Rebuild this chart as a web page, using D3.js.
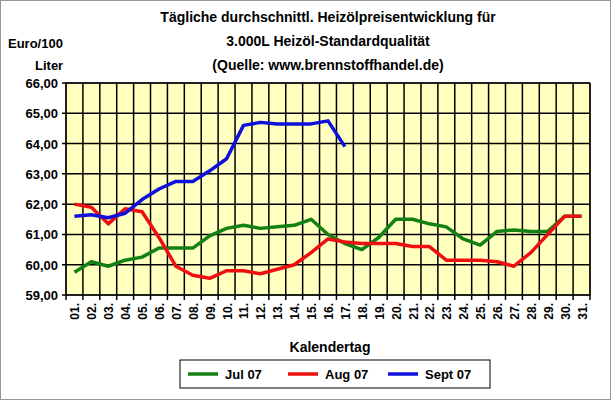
<!DOCTYPE html><html><head><meta charset="utf-8"><script src="https://cdn.jsdelivr.net/npm/d3@7"></script>
<style>body{margin:0;background:#fff}text{font-family:Arial,"Liberation Sans",sans-serif;font-weight:bold}</style></head><body><svg width="611" height="400"></svg><script>
const days=d3.range(1,32).map(d=>String(d).padStart(2,"0")+".");
const yTicks=[59,60,61,62,63,64,65,66];
const jul=[59.75,60.1,59.95,60.15,60.25,60.55,60.55,60.55,60.95,61.2,61.3,61.2,61.25,61.3,61.5,61.0,60.7,60.5,60.9,61.5,61.5,61.35,61.25,60.85,60.65,61.1,61.15,61.1,61.1,61.6,61.6];
const aug=[62.0,61.9,61.35,61.85,61.75,60.9,59.95,59.65,59.55,59.8,59.8,59.7,59.85,60.0,60.4,60.85,60.75,60.7,60.7,60.7,60.6,60.6,60.15,60.15,60.15,60.1,59.95,60.4,61.0,61.6,61.6];
const sep=[61.6,61.65,61.55,61.7,62.15,62.5,62.75,62.75,63.1,63.5,64.6,64.7,64.65,64.65,64.65,64.75,63.9];
const series=[{n:"Jul 07",v:jul,c:"#138013"},{n:"Aug 07",v:aug,c:"#ee1010"},{n:"Sept 07",v:sep,c:"#1010dd"}];
const svg=d3.select("svg");
svg.append("rect").attr("x",0.5).attr("y",0.5).attr("width",610).attr("height",399).attr("fill","#fff").attr("stroke","#999");
const L=66,R=590,T=83,B=295;
const x=d3.scaleBand().domain(days).range([L,R]);
const y=d3.scaleLinear().domain([59,66]).range([B,T]);
svg.append("rect").attr("x",L).attr("y",T).attr("width",R-L).attr("height",B-T).attr("fill","#ffffc0").attr("stroke","#000");
const g=svg.append("g");
days.forEach(d=>g.append("line").attr("x1",x(d)).attr("x2",x(d)).attr("y1",T).attr("y2",B+5).attr("stroke","#000").attr("stroke-width",1.5));
g.append("line").attr("x1",R).attr("x2",R).attr("y1",T).attr("y2",B+5).attr("stroke","#000").attr("stroke-width",1.5);
yTicks.forEach(t=>{g.append("line").attr("x1",L-4).attr("x2",R).attr("y1",y(t)).attr("y2",y(t)).attr("stroke","#000").attr("stroke-width",1.5);
 svg.append("text").attr("x",L-8).attr("y",y(t)+5).attr("text-anchor","end").attr("font-size",13).text(t.toFixed(2).replace(".",","));});
days.forEach(d=>svg.append("text").attr("transform",`translate(${x(d)+x.bandwidth()/2+5},${B+8}) rotate(-90)`).attr("text-anchor","end").attr("font-size",12).text(d));
const line=d3.line().x((v,i)=>x(days[i])+x.bandwidth()/2).y(v=>y(v));
series.forEach(s=>svg.append("path").attr("d",line(s.v)).attr("fill","none").attr("stroke",s.c).attr("stroke-width",3.5).attr("stroke-linejoin","round"));
[["Tägliche durchschnittl. Heizölpreisentwicklung für",22],["3.000L Heizöl-Standardqualität",46],["(Quelle: www.brennstoffhandel.de)",70]].forEach(([t,yy])=>svg.append("text").attr("x",328).attr("y",yy).attr("text-anchor","middle").attr("font-size",14).text(t));
svg.append("text").attr("x",8).attr("y",48).attr("font-size",13).text("Euro/100");
svg.append("text").attr("x",35).attr("y",70).attr("font-size",13).text("Liter");
svg.append("text").attr("x",330).attr("y",352).attr("text-anchor","middle").attr("font-size",14).text("Kalendertag");
svg.append("rect").attr("x",180).attr("y",360).attr("width",310).attr("height",28).attr("fill","#fff").attr("stroke","#000");
series.forEach((s,i)=>{const lx=188+i*100;
 svg.append("line").attr("x1",lx).attr("x2",lx+30).attr("y1",374).attr("y2",374).attr("stroke",s.c).attr("stroke-width",3.5);
 svg.append("text").attr("x",lx+37).attr("y",379).attr("font-size",13).text(s.n);});
</script></body></html>
